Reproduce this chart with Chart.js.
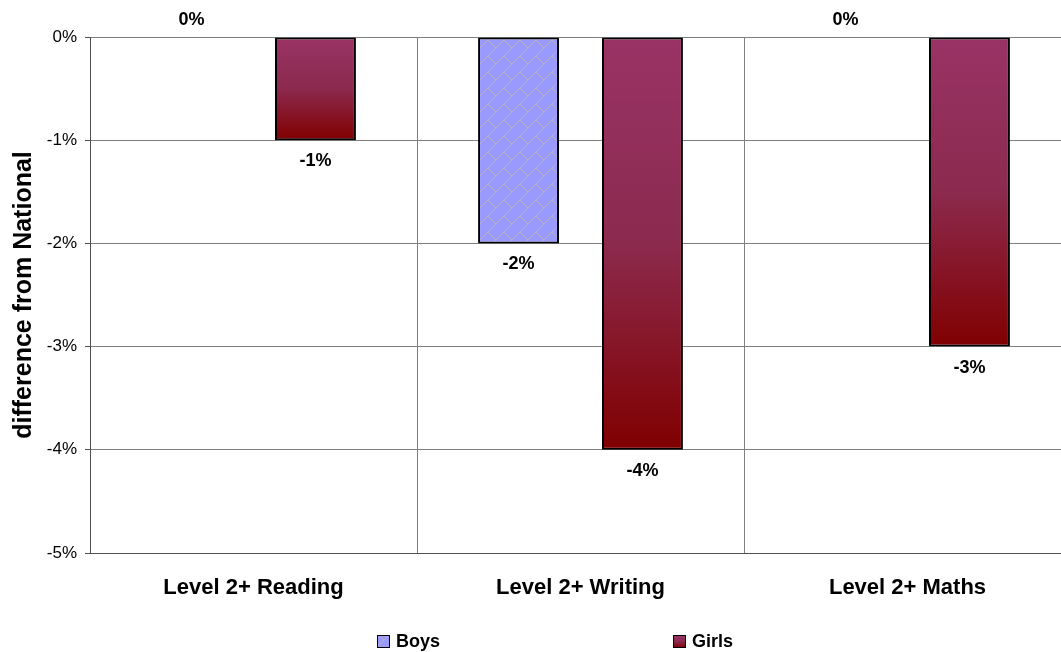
<!DOCTYPE html>
<html>
<head>
<meta charset="utf-8">
<script src="https://cdn.jsdelivr.net/npm/chart.js@4.4.1/dist/chart.umd.min.js"></script>
<style>
html, body { margin: 0; padding: 0; overflow: hidden; background: #fff; }
#wrap { width: 1071px; height: 652px; position: relative; }
</style>
</head>
<body>
<div id="wrap"><canvas id="c"></canvas></div>
<script>
const categories = ['Level 2+ Reading', 'Level 2+ Writing', 'Level 2+ Maths'];
const seriesNames = ['Boys', 'Girls'];
const boysValues = [0, -2, 0];
const girlsValues = [-1, -4, -3];
const yMin = -5;
const yMax = 0;
const yTitle = 'difference from National';

const FONT = "'Liberation Sans', Arial, sans-serif";
Chart.defaults.font.family = FONT;
Chart.defaults.color = '#000';

function makeBrickPattern() {
  const t = document.createElement('canvas');
  t.width = 16; t.height = 16;
  const c = t.getContext('2d');
  c.fillStyle = '#9999ff';
  c.fillRect(0, 0, 16, 16);
  c.fillStyle = '#b4b4c4';
  for (let i = 0; i < 16; i++) c.fillRect(15 - i, i, 1, 1);
  for (let i = 8; i < 16; i++) c.fillRect(i, i, 1, 1);
  return document.getElementById('c').getContext('2d').createPattern(t, 'repeat');
}
const brick = makeBrickPattern();

function girlsGradient(ctx2d, yTop, yBottom) {
  const g = ctx2d.createLinearGradient(0, yTop, 0, yBottom);
  g.addColorStop(0, '#993366');
  g.addColorStop(0.5, '#8c2a4e');
  g.addColorStop(1, '#800000');
  return g;
}

const labelPlugin = {
  id: 'valueLabels',
  afterDatasetsDraw(chart) {
    const ctx = chart.ctx;
    ctx.save();
    ctx.font = 'bold 18px ' + FONT;
    ctx.fillStyle = '#000';
    ctx.textAlign = 'center';
    ctx.textBaseline = 'middle';
    chart.data.datasets.forEach((ds, di) => {
      const meta = chart.getDatasetMeta(di);
      meta.data.forEach((el, i) => {
        const v = ds.data[i];
        const y = v < 0 ? el.y + 21 : el.y - 17;
        ctx.fillText(v + '%', el.x, y);
      });
    });
    ctx.restore();
  }
};

const legendPlugin = {
  id: 'bottomLegend',
  afterDraw(chart) {
    const ctx = chart.ctx;
    ctx.save();
    ctx.font = 'bold 18px ' + FONT;
    ctx.textBaseline = 'middle';
    ctx.textAlign = 'left';
    const items = [
      { x: 377, fill: brick },
      { x: 673, fill: null }
    ];
    const by = 635, bs = 13;
    items.forEach((it, i) => {
      ctx.fillStyle = it.fill || girlsGradient(ctx, by, by + bs);
      ctx.fillRect(it.x, by, bs, bs);
      ctx.strokeStyle = '#000';
      ctx.lineWidth = 1;
      ctx.strokeRect(it.x + 0.5, by + 0.5, bs - 1, bs - 1);
      ctx.fillStyle = '#000';
      ctx.fillText(seriesNames[i], it.x + bs + 6, by + bs / 2 + 1);
    });
    ctx.restore();
  }
};

new Chart(document.getElementById('c'), {
  type: 'bar',
  data: {
    labels: categories,
    datasets: [
      {
        label: seriesNames[0],
        data: boysValues,
        backgroundColor: brick,
        borderColor: '#000',
        borderWidth: 2,
        borderSkipped: false
      },
      {
        label: seriesNames[1],
        data: girlsValues,
        backgroundColor: (ctx) => {
          const chart = ctx.chart;
          if (!chart.chartArea || ctx.type !== 'data') return '#8c2a4e';
          const y = chart.scales.y;
          const y0 = y.getPixelForValue(0);
          const y1 = y.getPixelForValue(ctx.raw);
          return girlsGradient(chart.ctx, y0, y1);
        },
        borderColor: '#000',
        borderWidth: 2,
        borderSkipped: false
      }
    ]
  },
  options: {
    responsive: true,
    maintainAspectRatio: false,
    animation: false,
    layout: { padding: { top: 37, left: 0, right: 0, bottom: 0 } },
    categoryPercentage: 0.758,
    barPercentage: 0.653,
    plugins: {
      legend: { display: false },
      tooltip: { enabled: false }
    },
    scales: {
      x: {
        grid: {
          offset: true,
          color: '#808080',
          lineWidth: 1,
          drawTicks: false
        },
        border: { color: '#505050', width: 1 },
        ticks: {
          padding: 22,
          font: { size: 22, weight: 'bold' },
          color: '#000'
        },
        afterFit(scale) { scale.height = 99; }
      },
      y: {
        min: yMin,
        max: yMax,
        grid: {
          color: '#808080',
          lineWidth: 1,
          tickLength: 5,
          tickColor: '#505050'
        },
        border: { color: '#505050', width: 1 },
        ticks: {
          stepSize: 1,
          padding: 8,
          font: { size: 17 },
          color: '#000',
          callback: (v) => v + '%'
        },
        title: {
          display: true,
          text: yTitle,
          font: { size: 25, weight: 'bold' },
          color: '#000',
          padding: { top: 9, bottom: 0 }
        },
        afterFit(scale) { scale.width = 90; }
      }
    }
  },
  plugins: [labelPlugin, legendPlugin]
});
</script>
</body>
</html>
